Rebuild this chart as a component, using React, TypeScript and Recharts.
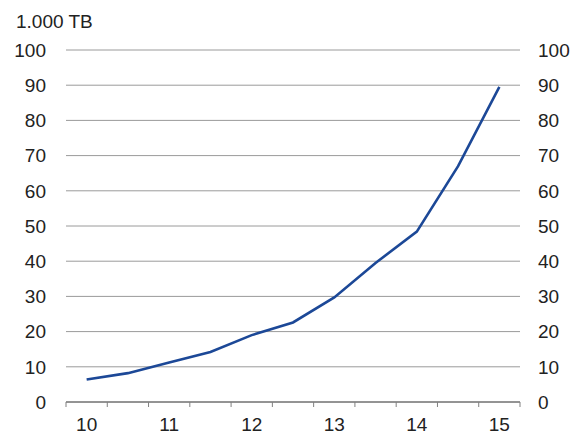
import React from 'react';
import { LineChart, Line, XAxis, YAxis, CartesianGrid } from 'recharts';

const periods = [0, 1, 2, 3, 4, 5, 6, 7, 8, 9, 10];
const values = [6.4, 8.2, 11.2, 14.2, 19, 22.6, 29.7, 39.5, 48.4, 67, 89.5];
const yearLabels = ['10', '11', '12', '13', '14', '15'];
const yTicks = [0, 10, 20, 30, 40, 50, 60, 70, 80, 90, 100];
const boundaryTicks = [-0.5, 0.5, 1.5, 2.5, 3.5, 4.5, 5.5, 6.5, 7.5, 8.5, 9.5, 10.5];
const unitLabel = '1.000 TB';

const data = periods.map((p, i) => ({ p, v: values[i] }));

const FONT_FAMILY = '"Liberation Sans", Arial, sans-serif';
const font = { fontFamily: FONT_FAMILY, fontSize: 19, fill: '#222' };

const YearTick = (props: any) => {
  const { x, y, index, width } = props;
  if (index % 2 !== 0 || index >= boundaryTicks.length - 1) return null;
  const halfBand = width / (boundaryTicks.length - 1) / 2;
  return (
    <text
      x={x + halfBand}
      y={y}
      dy="0.71em"
      textAnchor="middle"
      fontFamily={FONT_FAMILY}
      fontSize={19}
      fill="#222"
    >
      {yearLabels[index / 2]}
    </text>
  );
};

export default function App() {
  return (
    <div style={{ position: 'absolute', left: 0, top: 0, width: 576, height: 434, background: '#fff' }}>
      <div
        style={{
          position: 'absolute',
          left: 16,
          top: 12,
          fontFamily: FONT_FAMILY,
          fontSize: 19,
          color: '#222',
          lineHeight: '20px',
        }}
      >
        {unitLabel}
      </div>
      <LineChart width={576} height={434} data={data} margin={{ top: 50, right: 0, bottom: 0, left: 0 }}>
        <CartesianGrid vertical={false} stroke="#9a9a9a" strokeWidth={1} yAxisId="left" />
        <XAxis
          dataKey="p"
          type="number"
          domain={[-0.5, 10.5]}
          ticks={boundaryTicks}
          tick={<YearTick />}
          tickSize={5}
          tickMargin={11}
          height={32}
          axisLine={{ stroke: '#808080', strokeWidth: 1.5 }}
          tickLine={{ stroke: '#808080', strokeWidth: 1 }}
          interval={0}
        />
        <YAxis
          yAxisId="left"
          domain={[0, 100]}
          ticks={yTicks}
          width={66}
          axisLine={false}
          tickLine={false}
          tickSize={0}
          tickMargin={20}
          tick={font}
          interval={0}
        />
        <YAxis
          yAxisId="right"
          orientation="right"
          domain={[0, 100]}
          ticks={yTicks}
          width={56}
          axisLine={false}
          tickLine={false}
          tickSize={0}
          tickMargin={18}
          tick={font}
          interval={0}
        />
        <Line
          yAxisId="right"
          dataKey="v"
          type="linear"
          stroke="#1c4897"
          strokeOpacity={0}
          strokeWidth={0}
          dot={false}
          activeDot={false}
          legendType="none"
          isAnimationActive={false}
        />
        <Line
          yAxisId="left"
          dataKey="v"
          type="linear"
          stroke="#1c4897"
          strokeWidth={2.6}
          dot={false}
          isAnimationActive={false}
        />
      </LineChart>
    </div>
  );
}
